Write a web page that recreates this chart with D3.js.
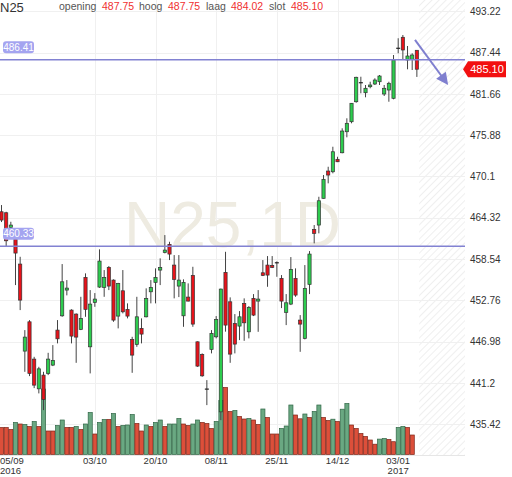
<!DOCTYPE html>
<html>
<head>
<meta charset="utf-8">
<script src="https://cdn.jsdelivr.net/npm/d3@7"></script>
<style>
  body { margin: 0; background: #fff; }
  svg { display: block; font-family: "Liberation Sans", Arial, sans-serif; }
</style>
</head>
<body>
<script>
var w = 512;
var h = 477;

// daily candles, 05/09/2016 .. 09/01/2017
var open = [465.15, 465.01, 462.97, 461.33, 457.83, 445.65, 449.75, 444.53, 440.37, 442.29,
  442.53, 443.69, 448.59, 450.59, 454.19, 451.39, 450.83, 448.69, 455.97, 446.25,
  452.47, 454.61, 454.57, 457.37, 455.59, 450.55, 454.09, 451.49, 447.29, 446.59,
  448.83, 450.45, 453.95, 455.27, 456.99, 459.47, 460.59, 457.69, 454.75, 450.59,
  453.21, 456.25, 446.95, 445.19, 440.33, 445.89, 447.65, 437.15, 456.67, 452.55,
  449.53, 449.15, 452.33, 448.35, 453.03, 452.65, 456.61, 457.69, 457.65, 458.01,
  455.83, 451.07, 452.23, 455.83, 449.99, 447.43, 454.99, 462.69, 463.29, 467.03,
  470.85, 470.75, 472.49, 473.41, 476.35, 477.75, 480.55, 483.21, 481.81, 482.65,
  483.03, 483.35, 481.63, 482.19, 481.03, 488.03, 489.57, 486.39, 486.49, 487.75];
var high = [466.09, 465.15, 463.75, 461.40, 458.85, 448.59, 449.99, 444.85, 443.45, 442.75,
  445.41, 446.49, 449.99, 457.83, 455.59, 451.50, 450.93, 453.25, 456.53, 454.19,
  453.77, 459.89, 456.99, 457.55, 455.69, 455.20, 456.99, 452.33, 447.65, 453.25,
  450.23, 454.43, 455.59, 457.23, 458.63, 461.89, 460.95, 459.09, 459.09, 455.69,
  455.13, 457.45, 447.00, 445.33, 441.59, 448.59, 450.55, 454.40, 459.55, 453.17,
  450.83, 451.25, 453.03, 451.95, 453.63, 454.19, 458.39, 458.95, 458.95, 458.20,
  456.29, 453.63, 458.81, 457.23, 450.69, 457.69, 459.65, 463.29, 467.25, 470.29,
  471.45, 474.25, 472.85, 476.83, 478.23, 480.37, 484.05, 484.05, 482.89, 483.35,
  483.83, 484.29, 482.89, 483.35, 487.09, 489.43, 489.89, 488.35, 487.33, 487.75];
var low = [463.71, 460.25, 462.45, 454.89, 451.39, 442.75, 442.15, 440.47, 439.73, 437.39,
  442.29, 443.55, 446.73, 450.45, 453.45, 446.73, 444.01, 448.59, 450.45, 442.53,
  451.85, 454.50, 453.25, 454.19, 449.75, 448.83, 450.93, 450.23, 442.61, 446.25,
  446.73, 450.37, 452.33, 452.33, 454.89, 459.33, 458.39, 453.03, 453.21, 449.05,
  452.60, 449.05, 443.45, 442.05, 438.09, 445.33, 447.43, 435.99, 448.37, 444.01,
  445.33, 447.19, 447.09, 447.43, 450.55, 448.35, 456.15, 454.65, 457.27, 456.05,
  451.67, 449.29, 452.09, 453.25, 445.55, 447.29, 453.63, 460.73, 462.13, 467.00,
  469.13, 470.53, 472.10, 473.33, 475.57, 477.53, 480.41, 481.73, 481.17, 482.43,
  482.89, 482.89, 481.35, 480.55, 480.89, 487.33, 486.49, 485.09, 484.99, 484.02];
var close = [463.99, 461.09, 463.29, 459.37, 452.79, 447.61, 442.53, 440.89, 443.17, 438.89,
  444.53, 444.35, 447.37, 455.35, 454.47, 447.75, 447.61, 450.23, 451.49, 452.23,
  452.93, 458.25, 455.97, 454.75, 449.99, 455.13, 451.15, 450.55, 445.09, 450.45,
  448.03, 453.03, 454.57, 455.97, 457.37, 459.79, 459.23, 455.69, 455.59, 455.27,
  452.65, 449.43, 443.55, 442.19, 440.33, 448.13, 450.09, 454.33, 449.29, 445.23,
  446.63, 450.45, 449.61, 451.77, 450.69, 452.93, 456.25, 456.29, 457.37, 458.01,
  452.65, 452.41, 457.09, 453.49, 449.43, 454.43, 459.23, 462.13, 466.69, 469.69,
  470.29, 473.55, 472.15, 476.45, 477.53, 480.33, 483.97, 483.21, 482.43, 482.89,
  483.59, 484.15, 482.43, 483.13, 486.39, 488.03, 487.79, 486.95, 487.09, 485.10];

var volume = [27, 27, 25, 32, 30.5, 30, 28, 33, 28, 65.5,
  23.5, 23.5, 29, 34.5, 27, 27, 28, 25, 30.5, 42,
  20.5, 32, 35, 35, 41, 28, 29, 29.5, 40, 31,
  23.5, 29.5, 28, 32, 34.5, 28, 30.5, 30.5, 36, 30.5,
  29, 30.5, 34.5, 32, 31, 26, 33, 54, 67, 43,
  44, 38, 35.5, 36, 34.5, 30, 45.5, 37, 20.5, 20.5,
  26, 28.5, 49.5, 39.5, 35.7, 40.5, 37, 43, 49.5, 37,
  34, 35.3, 33, 45.3, 51, 29.5, 26, 21, 18, 14.5,
  10.3, 15.4, 16, 15, 12.8, 27, 28, 27, 19.5, null];
var volumeDir = "rrrgrgrgrg" + "rrggrrgrgg" + "rggrgrgggr" + "rgrggrgggr" + "rggrrrggrr" +
  "grrgrrgrrr" + "gggrrgrggr" + "rgrggrrrrr" + "rggrrggrr";

var yTicks = [435.42, 441.2, 446.98, 452.76, 458.54, 464.32, 470.1, 475.88, 481.66, 487.44, 493.22];
var yTickLabels = ["435.42", "441.2", "446.98", "452.76", "458.54", "464.32", "470.1", "475.88", "481.66", "487.44", "493.22"];

var dateIdx = [0, 20, 33, 46, 59, 72, 85];
var dateLabels = ["05/09", "03/10", "20/10", "08/11", "25/11", "14/12", "03/01"];
var yearIdx = [0, 85];
var yearLabels = ["2016", "2017"];

var levels = [486.41, 460.33];
var last = 485.10;
var header = [["opening", "487.75"], ["hoog", "487.75"], ["laag", "484.02"], ["slot", "485.10"]];

var plotRight = 465;
var plotBottom = 455;

var x = d3.scaleLinear().domain([0, 99]).range([1.5, 1.5 + 99 * 4.667]);
var y = d3.scaleLinear().domain([435.42, 493.22]).range([424.2, 11.2]);
var yv = d3.scaleLinear().domain([0, 100]).range([454.5, 354.5]);

var svg = d3.select("body").append("svg")
  .attr("width", w)
  .attr("height", h);

var defs = svg.append("defs");
defs.append("clipPath").attr("id", "plot")
  .append("rect").attr("x", 0).attr("y", 0).attr("width", plotRight).attr("height", plotBottom);
var pat = defs.append("pattern").attr("id", "hatch")
  .attr("patternUnits", "userSpaceOnUse")
  .attr("width", 5).attr("height", 5)
  .attr("patternTransform", "rotate(45)");
pat.append("line").attr("x1", 0).attr("y1", 0).attr("x2", 0).attr("y2", 5)
  .attr("stroke", "#e4e4e4").attr("stroke-width", 1.2);

// hatched future zone
svg.append("rect")
  .attr("x", x(89.5)).attr("y", 0)
  .attr("width", plotRight - x(89.5)).attr("height", plotBottom)
  .attr("fill", "url(#hatch)");

// grid
svg.append("g").selectAll("line").data(yTicks).enter().append("line")
  .attr("x1", 0).attr("x2", plotRight)
  .attr("y1", function (d) { return Math.round(y(d)) + 0.5; })
  .attr("y2", function (d) { return Math.round(y(d)) + 0.5; })
  .attr("stroke", "#f0f0f0");
svg.append("g").selectAll("line").data(dateIdx.slice(1)).enter().append("line")
  .attr("y1", 0).attr("y2", plotBottom)
  .attr("x1", function (d) { return Math.round(x(d)) + 0.5; })
  .attr("x2", function (d) { return Math.round(x(d)) + 0.5; })
  .attr("stroke", "#f0f0f0");

// watermark
svg.append("text")
  .attr("x", plotRight / 2).attr("y", 247)
  .attr("text-anchor", "middle")
  .attr("font-size", 64)
  .attr("fill", "#eeebe1")
  .text("N25,1D");

var plot = svg.append("g").attr("clip-path", "url(#plot)");

// volume
var vols = volume.map(function (v, i) { return { i: i, v: v, up: volumeDir[i] === "g" }; })
  .filter(function (d) { return d.v != null; });
plot.selectAll(".vol").data(vols).enter().append("rect")
  .attr("class", "vol")
  .attr("x", function (d) { return x(d.i) - 2; })
  .attr("width", 4.1)
  .attr("y", function (d) { return yv(d.v); })
  .attr("height", function (d) { return yv(0) - yv(d.v); })
  .attr("fill", function (d) { return d.up ? "#6aa882" : "#dc4f3a"; })
  .attr("stroke", function (d) { return d.up ? "#2f6645" : "#7d2619"; })
  .attr("stroke-width", 0.7);

// candles
var candles = open.map(function (o, i) {
  return { i: i, o: o, h: high[i], l: low[i], c: close[i] };
});
plot.selectAll(".wick").data(candles).enter().append("line")
  .attr("class", "wick")
  .attr("x1", function (d) { return x(d.i); })
  .attr("x2", function (d) { return x(d.i); })
  .attr("y1", function (d) { return y(d.h); })
  .attr("y2", function (d) { return y(d.l); })
  .attr("stroke", "#444")
  .attr("stroke-width", 1);

var bodies = candles.filter(function (d) { return Math.abs(d.o - d.c) >= 0.05; });
var dojis = candles.filter(function (d) { return Math.abs(d.o - d.c) < 0.05; });

plot.selectAll(".body").data(bodies).enter().append("rect")
  .attr("class", "body")
  .attr("x", function (d) { return x(d.i) - 1.6; })
  .attr("width", 3.2)
  .attr("y", function (d) { return y(Math.max(d.o, d.c)); })
  .attr("height", function (d) { return Math.max(1, Math.abs(y(d.o) - y(d.c))); })
  .attr("fill", function (d) { return d.c > d.o ? "#2dcc4e" : "#e8121a"; })
  .attr("stroke", "#333")
  .attr("stroke-width", 0.7);

plot.selectAll(".doji").data(dojis).enter().append("line")
  .attr("class", "doji")
  .attr("x1", function (d) { return x(d.i) - 2; })
  .attr("x2", function (d) { return x(d.i) + 2; })
  .attr("y1", function (d) { return y(d.o); })
  .attr("y2", function (d) { return y(d.o); })
  .attr("stroke", "#222")
  .attr("stroke-width", 1.2);

// level lines
svg.append("g").selectAll("line").data(levels).enter().append("line")
  .attr("x1", 0).attr("x2", plotRight)
  .attr("y1", function (d) { return y(d); })
  .attr("y2", function (d) { return y(d); })
  .attr("stroke", "#8282d2")
  .attr("stroke-width", 1.5);

var lvl = svg.append("g").selectAll("g").data(levels).enter().append("g");
lvl.append("rect")
  .attr("x", 3).attr("width", 31)
  .attr("y", function (d) { return y(d) - 18.5; })
  .attr("height", 12)
  .attr("rx", 3)
  .attr("fill", "#a4a4f0");
lvl.append("text")
  .attr("x", 18.5)
  .attr("y", function (d) { return y(d) - 9; })
  .attr("text-anchor", "middle")
  .attr("font-size", 10)
  .attr("fill", "#fff")
  .text(function (d) { return d.toFixed(2); });

// trend arrow
var ax1 = x(88.6), ay1 = y(489.2), ax2 = x(95.7), ay2 = y(482.9);
var len = Math.hypot(ax2 - ax1, ay2 - ay1);
var ux = (ax2 - ax1) / len, uy = (ay2 - ay1) / len;
svg.append("line")
  .attr("x1", ax1).attr("y1", ay1)
  .attr("x2", ax2 - ux * 8).attr("y2", ay2 - uy * 8)
  .attr("stroke", "#7f7fcf")
  .attr("stroke-width", 2);
svg.append("path")
  .attr("d", "M" + ax2 + "," + ay2 +
    "L" + (ax2 - ux * 12 - uy * 6) + "," + (ay2 - uy * 12 + ux * 6) +
    "L" + (ax2 - ux * 12 + uy * 6) + "," + (ay2 - uy * 12 - ux * 6) + "Z")
  .attr("fill", "#7f7fcf");

// right axis
var yAxis = d3.axisRight(y)
  .tickValues(yTicks)
  .tickFormat(function (d, i) { return yTickLabels[i]; })
  .tickSize(0)
  .tickPadding(4);
var ya = svg.append("g")
  .attr("transform", "translate(" + (plotRight + 1) + ",0)")
  .call(yAxis);
ya.select(".domain").remove();
ya.selectAll("text")
  .attr("font-size", 10)
  .attr("font-family", "Liberation Sans, Arial, sans-serif")
  .attr("fill", "#333");

// last price tag
var ly = y(last);
svg.append("path")
  .attr("d", "M463," + ly + "L468," + (ly - 8) + "L506," + (ly - 8) + "L506," + (ly + 8) + "L468," + (ly + 8) + "Z")
  .attr("fill", "#f21010");
svg.append("text")
  .attr("x", 487).attr("y", ly + 4)
  .attr("text-anchor", "middle")
  .attr("font-size", 11)
  .attr("fill", "#fff")
  .text(last.toFixed(2));

// bottom axis
svg.append("line")
  .attr("x1", 0).attr("x2", plotRight)
  .attr("y1", plotBottom + 0.5).attr("y2", plotBottom + 0.5)
  .attr("stroke", "#e6e6e6");
svg.append("g").selectAll("text").data(dateIdx).enter().append("text")
  .attr("x", function (d) { return d === 0 ? 0 : x(d); })
  .attr("y", 464)
  .attr("text-anchor", function (d) { return d === 0 ? "start" : "middle"; })
  .attr("font-size", 9.5)
  .attr("fill", "#333")
  .text(function (d, i) { return dateLabels[i]; });
svg.append("g").selectAll("text").data(yearIdx).enter().append("text")
  .attr("x", function (d) { return d === 0 ? 0 : x(d); })
  .attr("y", 474)
  .attr("text-anchor", function (d) { return d === 0 ? "start" : "middle"; })
  .attr("font-size", 9.5)
  .attr("fill", "#333")
  .text(function (d, i) { return yearLabels[i]; });

// header
svg.append("text")
  .attr("x", 0).attr("y", 12)
  .attr("font-size", 13)
  .attr("fill", "#333")
  .text("N25");
var hx = [59, 139, 206, 269];
var hv = [102, 168, 231, 291];
header.forEach(function (p, i) {
  svg.append("text").attr("x", hx[i]).attr("y", 10)
    .attr("font-size", 10.5).attr("fill", "#555").text(p[0]);
  svg.append("text").attr("x", hv[i]).attr("y", 10)
    .attr("font-size", 10.5).attr("fill", "#f03030").text(p[1]);
});
</script>
</body>
</html>
